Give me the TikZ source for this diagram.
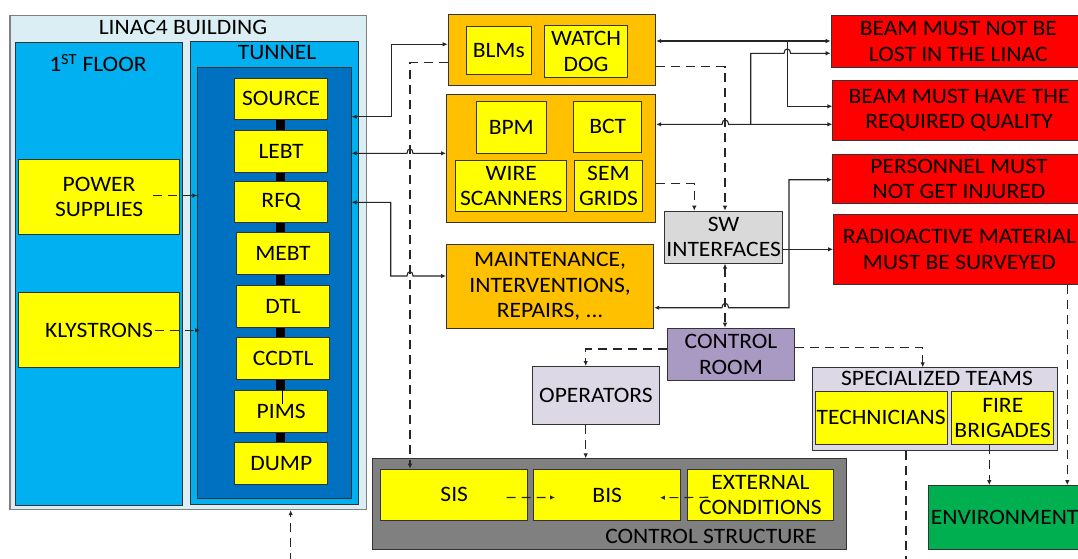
\documentclass[tikz,border=0pt]{standalone}
\usepackage{fontspec}
\setmainfont{Carlito}[FakeStretch=1.07]
\usetikzlibrary{arrows.meta,calc}

\definecolor{bldg}{HTML}{DAEEF3}
\definecolor{sky}{HTML}{00B0F0}
\definecolor{deep}{HTML}{0070C0}
\definecolor{yel}{HTML}{FFFF00}
\definecolor{amber}{HTML}{FFC000}
\definecolor{alarm}{HTML}{FF0000}
\definecolor{swgray}{HTML}{D9D9D9}
\definecolor{lilac}{HTML}{A89AC2}
\definecolor{pale}{HTML}{DCD8E6}
\definecolor{csgray}{HTML}{808080}
\definecolor{envgreen}{HTML}{00B050}

\tikzset{
  blk/.style={draw=black!80, line width=0.9pt, rectangle, inner sep=0pt,
    anchor=north west, align=center, font=\fontsize{22}{25.5}\selectfont},
  lbl/.style={inner sep=0pt, align=center, font=\fontsize{22}{25.5}\selectfont},
  conn/.style={line width=1.1pt, draw=black!85},
  tip/.style={-{Latex[length=5pt,width=4.5pt]}},
  bitip/.style={{Latex[length=5pt,width=4.5pt]}-{Latex[length=5pt,width=4.5pt]}},
  dashln/.style={dash pattern=on 9pt off 6pt},
  bar/.style={line width=9pt, draw=black},
}

% box given by its top-left and bottom-right corners
\newcommand\cornerbox[7]{%
  \node[blk,#1,minimum width={#5-#3},minimum height={#6-#4}] (#2) at (#3,#4) {#7};}

\begin{document}
\begin{tikzpicture}[x=1pt,y=-1pt]
\useasboundingbox (0,0) rectangle (1078,558);
\clip (0,0) rectangle (1078,558);
\fill[white] (0,0) rectangle (1078,558);

% ---------------- building ----------------
\cornerbox{fill=bldg,draw=black!50,line width=1.2pt}{bldg}{9.3}{14.7}{366}{509}{}
\cornerbox{fill=sky}{floor}{15.3}{41.7}{182.3}{505}{}
\cornerbox{fill=sky}{tunnel}{190.3}{41}{357.7}{504.3}{}
\cornerbox{fill=deep}{beam}{197.3}{67.3}{350.7}{497.7}{}
\node[lbl] (bldgttl) at (183,27) {LINAC4 BUILDING};
\node[lbl] (floorttl) at (98,63) {1\textsuperscript{ST} FLOOR};
\node[lbl] (tunnelttl) at (277,53) {TUNNEL};

\cornerbox{fill=yel}{psu}{18}{158.7}{179.3}{234}{POWER\\SUPPLIES}
\cornerbox{fill=yel}{kly}{18}{292.3}{179.3}{367.3}{KLYSTRONS}

\cornerbox{fill=yel}{source}{234.3}{77.7}{327}{119}{SOURCE}
\cornerbox{fill=yel}{lebt}{234.3}{130}{327}{171.7}{LEBT}
\cornerbox{fill=yel}{rfq}{234.3}{180.7}{327}{222}{RFQ}
\cornerbox{fill=yel}{mebt}{236.3}{232.3}{328.7}{274}{MEBT}
\cornerbox{fill=yel}{dtl}{236.3}{284.7}{329}{326.7}{DTL}
\cornerbox{fill=yel}{ccdtl}{236.3}{336.7}{329}{379}{CCDTL}
\cornerbox{fill=yel}{pims}{234.3}{390.3}{327.3}{432.3}{PIMS}
\cornerbox{fill=yel}{dump}{234.3}{442.3}{327.3}{484.3}{DUMP}

% beam line between the accelerator sections
\foreach \a/\b in {source/lebt,lebt/rfq,rfq/mebt,mebt/dtl,dtl/ccdtl,ccdtl/pims,pims/dump}
  \draw[bar] (\a.south -| 280,0) -- (\b.north -| 280,0);
\draw[line width=0.8pt] (ccdtl.south -| 282.7,0) -- (282.7,404);

% ---------------- diagnostics / maintenance ----------------
\cornerbox{fill=amber}{mon}{447.7}{13.7}{655.3}{85}{}
\cornerbox{fill=yel}{blms}{466}{26}{530.7}{74.3}{BLMs}
\cornerbox{fill=yel}{wdog}{544}{25.3}{627.3}{77}{WATCH\\DOG}
\cornerbox{fill=amber}{instr}{446}{94.3}{655.3}{222.3}{}
\cornerbox{fill=yel}{bpm}{476}{101}{545.7}{153.3}{BPM}
\cornerbox{fill=yel}{bct}{573.3}{101}{641.3}{151.7}{BCT}
\cornerbox{fill=yel}{wire}{455.3}{160.3}{566.3}{211.3}{WIRE\\SCANNERS}
\cornerbox{fill=yel}{sem}{574}{159.7}{642}{211.3}{SEM\\GRIDS}
\cornerbox{fill=amber}{maint}{446}{244.3}{653.3}{327.7}{MAINTENANCE,\\INTERVENTIONS,\\REPAIRS, ...}

\cornerbox{fill=swgray}{sw}{664}{210.7}{782.3}{262.7}{SW\\INTERFACES}
\cornerbox{fill=lilac}{cr}{666.7}{327.7}{794.3}{380}{CONTROL\\ROOM}
\cornerbox{fill=pale}{ops}{532.3}{366}{658.7}{424.3}{OPERATORS}

\cornerbox{fill=pale}{spec}{811.7}{367.3}{1057.3}{450}{}
\node[lbl] (specttl) at (937,378.3) {SPECIALIZED TEAMS};
\cornerbox{fill=yel}{tech}{814.7}{390.7}{946.7}{444}{TECHNICIANS}
\cornerbox{fill=yel}{fire}{951.3}{391}{1053.3}{444.3}{FIRE\\BRIGADES}
\cornerbox{fill=envgreen}{env}{928.3}{485}{1080}{549}{ENVIRONMENT}

% ---------------- goals ----------------
\cornerbox{fill=alarm}{goal1}{830.7}{14.7}{1085}{67.3}{BEAM MUST NOT BE\\LOST IN THE LINAC}
\cornerbox{fill=alarm}{goal2}{832.3}{80}{1085}{140}{BEAM MUST HAVE THE\\REQUIRED QUALITY}
\cornerbox{fill=alarm}{goal3}{832}{154}{1085}{202.7}{PERSONNEL MUST\\NOT GET INJURED}
\cornerbox{fill=alarm}{goal4}{833}{214.3}{1085}{283.7}{RADIOACTIVE MATERIAL\\MUST BE SURVEYED}

% ---------------- control structure ----------------
\cornerbox{fill=csgray}{cs}{372.3}{458.3}{845.7}{549.3}{}
\node[lbl] (csttl) at (711,536.7) {CONTROL STRUCTURE};
\cornerbox{fill=yel}{sis}{380.3}{468.7}{527.3}{520}{SIS}
\cornerbox{fill=yel}{bis}{533.3}{469.3}{680.3}{520}{BIS}
\cornerbox{fill=yel}{ext}{686.7}{469}{833.3}{520}{EXTERNAL\\CONDITIONS}

% ---------------- connectors ----------------
\coordinate (j1) at (787.3,41);
\coordinate (j2) at (750.7,124.3);
\coordinate (down) at (906,562);
\coordinate (up) at (290.7,562);

\draw[conn,dashln,tip] ($(psu.east)+(-27.6,-1.3)$) -- ($(beam.west |- psu.east)+(0,-1.3)$);
\draw[conn,dashln,tip] ($(kly.east)+(-25.3,0)$) -- ($(beam.west |- kly.east)+(2.7,0)$);
\draw[conn,dashln,tip] (up) -- (bldg.south -| up);

\draw[conn,bitip] (beam.east |- 0,116.7) -| (391.7,44.3) -- (mon.west |- 0,44.3);
\draw[conn,bitip] (beam.east |- 0,153.3) -- (407,153.3)
  .. controls (407,147.5) and (413,147.5) .. (413,153.3) -- (instr.west |- 0,153.3);
\draw[conn,bitip] (beam.east |- 0,202.3) -| (390.7,276) -- (407,276)
  .. controls (407,270.2) and (413,270.2) .. (413,276) -- (maint.west |- 0,276);
\draw[conn,dashln,tip] (mon.west |- 0,62.7) -| (sis.north -| 410,0);

\draw[conn,bitip] (mon.east |- j1) -- (goal1.west |- j1);
\draw[conn,tip] (j1) |- (goal2.west |- 0,106.3);
\draw[conn,bitip] (instr.east |- j2) -- (722,124.3)
  .. controls (722,118.5) and (728.6,118.5) .. (728.6,124.3) -- (goal2.west |- j2);
\draw[conn,tip] (j2) -- (750.7,53.3) -- (784,53.3)
  .. controls (784,47.5) and (790.6,47.5) .. (790.6,53.3) -- (goal1.west |- 0,53.3);

\draw[conn,dashln,tip] (mon.east |- 0,66.7) -| (sw.north -| 725,0);
\draw[conn,dashln,tip] (instr.east |- 0,183.7) -| (sw.north -| 694.3,0);
\draw[conn,tip] (sw.east |- 0,249.3) -- (goal4.west |- 0,249.3);
\draw[conn,bitip] (maint.east |- 0,307.7) -- (722,307.7)
  .. controls (722,301.9) and (728.6,301.9) .. (728.6,307.7) -| (789,179.7) -- (goal3.west |- 0,179.7);

\draw[conn,dashln,bitip] (sw.south -| 725,0) -- (cr.north -| 725,0);
\draw[conn,dashln,tip] (cr.west |- 0,349) -| (ops.north -| 585.7,0);
\draw[conn,dashln,tip] (cr.east |- 0,347.7) -| (spec.north -| 922.7,0);
\draw[conn,dashln,tip] (goal4.south -| 1067.3,0) -- (env.north -| 1067.3,0);
\draw[conn,dashln,tip] (fire.south -| 989.3,0) -- (env.north -| 989.3,0);
\draw[conn,dashln] (spec.south -| down) -- (down);

\draw[conn,dashln,tip] (ops.south -| 585.7,0) -- (cs.north -| 585.7,0);
\draw[conn,dashln,tip] ($(sis.east)+(-21.6,2.65)$) -- ($(bis.west)+(21.7,2.35)$);
\draw[conn,dashln,tip] ($(ext.west)+(21.6,2.3)$) -- ($(bis.east)+(-21.3,2.65)$);
\end{tikzpicture}
\end{document}
